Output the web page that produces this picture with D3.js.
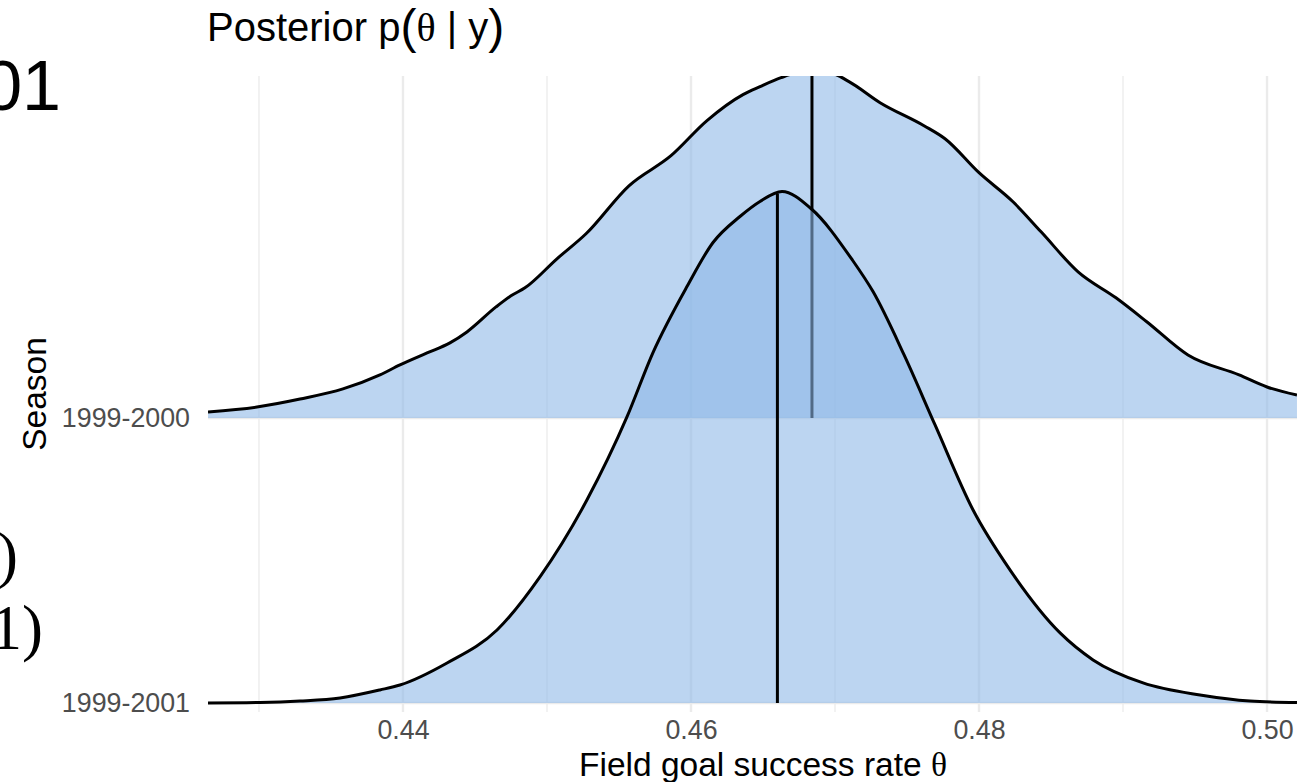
<!DOCTYPE html>
<html>
<head>
<meta charset="utf-8">
<script src="https://cdn.jsdelivr.net/npm/d3@7"></script>
<style>
  html, body { margin: 0; padding: 0; background: #fff; overflow: hidden; }
  svg { display: block; font-family: "Liberation Sans", Arial, sans-serif; }
</style>
</head>
<body>
<svg id="chart" width="1297" height="782"></svg>
<script>
// seasons, bottom row first
var seasons = ["1999-2001", "1999-2000"];
var medianTheta = [0.4684, 0.4660]; // 1999-2000, 1999-2001

var xMajor = [0.44, 0.46, 0.48, 0.50];
var xMinor = [0.43, 0.45, 0.47, 0.49];

// posterior density, 1999-2000
var theta2000 = [0.42646, 0.42986, 0.43285, 0.43583, 0.43840, 0.43979, 0.44167, 0.44326, 0.44444,
  0.44646, 0.44750, 0.44847, 0.45069, 0.45271, 0.45569, 0.45861, 0.46111, 0.46361, 0.46479,
  0.46625, 0.46715, 0.46840, 0.46979, 0.47097, 0.47313, 0.47618, 0.47764, 0.48000, 0.48236,
  0.48431, 0.48688, 0.48951, 0.49167, 0.49451, 0.49806, 0.50000, 0.50208];
var dens2000 = [0.49, 0.89, 1.54, 2.36, 3.5, 4.31, 5.28, 6.1, 6.99,
  9.02, 9.92, 10.57, 12.93, 14.96, 18.86, 21.3, 24.15, 26.26, 26.91,
  27.64, 27.97, 28.05, 27.97, 27.32, 25.61, 23.74, 22.68, 19.92, 17.56,
  15.12, 11.87, 9.76, 7.8, 5.12, 3.5, 2.52, 1.87];

// posterior density, 1999-2001
var theta2001 = [0.42646, 0.43007, 0.43285, 0.43563, 0.43840, 0.43979, 0.44306, 0.44653, 0.44951,
  0.45278, 0.45556, 0.45736, 0.45972, 0.46153, 0.46340, 0.46479, 0.46632, 0.46833, 0.47118,
  0.47264, 0.47479, 0.47694, 0.47958, 0.48215, 0.48563, 0.48792, 0.49139, 0.49535, 0.49882, 0.50208];
var dens2001 = [0.0, 0.04, 0.16, 0.41, 1.06, 1.46, 3.25, 5.93, 10.24,
  16.5, 23.25, 28.46, 33.82, 37.4, 39.51, 40.73, 41.54, 40.16, 36.02,
  33.41, 28.29, 22.6, 15.69, 10.81, 5.69, 3.5, 1.63, 0.65, 0.16, 0.04];

// back ridge first
var series = [
  { season: "1999-2000", pts: theta2000.map(function(t, i){ return { t: t, d: dens2000[i] }; }), median: medianTheta[0] },
  { season: "1999-2001", pts: theta2001.map(function(t, i){ return { t: t, d: dens2001[i] }; }), median: medianTheta[1] }
];

var svg = d3.select("#chart");
var panel = { left: 208, right: 1318, top: 76, bottom: 712 };

var x = d3.scaleLinear().domain([0.42646, 0.50354]).range([panel.left, panel.right]);
var y = d3.scalePoint().domain(seasons).range([703, 418]);
var h = d3.scaleLinear().domain([0, 41.5]).range([0, 511]);

svg.append("defs").append("clipPath").attr("id", "panelClip")
  .append("rect")
  .attr("x", panel.left).attr("y", panel.top)
  .attr("width", panel.right - panel.left).attr("height", panel.bottom - panel.top);

// grid
var grid = svg.append("g");
grid.selectAll(".minor").data(xMinor).enter().append("line")
  .attr("x1", function(d){ return x(d); }).attr("x2", function(d){ return x(d); })
  .attr("y1", panel.top).attr("y2", panel.bottom)
  .attr("stroke", "#ebebeb").attr("stroke-width", 1.3);
grid.selectAll(".major").data(xMajor).enter().append("line")
  .attr("x1", function(d){ return x(d); }).attr("x2", function(d){ return x(d); })
  .attr("y1", panel.top).attr("y2", panel.bottom)
  .attr("stroke", "#ebebeb").attr("stroke-width", 2.4);
grid.selectAll(".hmajor").data(seasons).enter().append("line")
  .attr("x1", panel.left).attr("x2", panel.right)
  .attr("y1", function(d){ return y(d); }).attr("y2", function(d){ return y(d); })
  .attr("stroke", "#ebebeb").attr("stroke-width", 2.4);

// ridges
var ridges = svg.append("g").attr("clip-path", "url(#panelClip)");

function densAt(pts, t) {
  for (var i = 1; i < pts.length; i++) {
    if (pts[i].t >= t) {
      var a = pts[i - 1], b = pts[i];
      return a.d + (b.d - a.d) * (t - a.t) / (b.t - a.t);
    }
  }
  return 0;
}

series.forEach(function(s) {
  var base = y(s.season);
  var g = ridges.append("g");
  var area = d3.area()
    .x(function(d){ return x(d.t); })
    .y0(base)
    .y1(function(d){ return base - h(d.d); })
    .curve(d3.curveMonotoneX);
  var line = d3.line()
    .x(function(d){ return x(d.t); })
    .y(function(d){ return base - h(d.d); })
    .curve(d3.curveMonotoneX);

  g.append("path").attr("d", area(s.pts))
    .attr("fill", "#8cb7e7").attr("fill-opacity", 0.58);
  g.append("path").attr("d", line(s.pts))
    .attr("fill", "none").attr("stroke", "#000").attr("stroke-width", 3)
    .attr("stroke-linejoin", "round");
  g.append("line")
    .attr("x1", x(s.median)).attr("x2", x(s.median))
    .attr("y1", base).attr("y2", base - h(densAt(s.pts, s.median)))
    .attr("stroke", "#000").attr("stroke-width", 3);
});

// axes
var xAxis = svg.append("g")
  .attr("transform", "translate(0," + panel.bottom + ")")
  .call(d3.axisBottom(x).tickValues(xMajor).tickFormat(d3.format(".2f")).tickSize(0).tickPadding(8));
xAxis.select(".domain").remove();
xAxis.selectAll("text")
  .attr("fill", "#4d4d4d").style("font-size", "26.8px").style("font-family", "Liberation Sans, Arial, sans-serif");

var yAxis = svg.append("g")
  .attr("transform", "translate(" + panel.left + ",0)")
  .call(d3.axisLeft(y).tickSize(0).tickPadding(18));
yAxis.select(".domain").remove();
yAxis.selectAll("text")
  .attr("fill", "#4d4d4d").style("font-size", "26.8px").style("font-family", "Liberation Sans, Arial, sans-serif");

// axis titles
var xt = svg.append("text")
  .attr("x", (panel.left + panel.right) / 2).attr("y", 776)
  .attr("text-anchor", "middle").style("font-size", "33.5px").attr("fill", "#000");
xt.append("tspan").text("Field goal success rate ");
xt.append("tspan").style("font-family", "Liberation Serif, Times New Roman, serif").text("θ");

svg.append("text")
  .attr("transform", "translate(46," + ((panel.top + panel.bottom) / 2) + ") rotate(-90)")
  .attr("text-anchor", "middle").style("font-size", "33.5px").attr("fill", "#000")
  .text("Season");

// title
var title = svg.append("text")
  .attr("x", 207).attr("y", 41).style("font-size", "40px").attr("fill", "#000");
title.append("tspan").text("Posterior p");
title.append("tspan").style("font-size", "48px").attr("dy", 2).text("(");
title.append("tspan").style("font-family", "Liberation Serif, Times New Roman, serif").attr("dy", -2).text("θ");
title.append("tspan").text(" | y");
title.append("tspan").style("font-size", "48px").attr("dy", 2).text(")");

// fragments of neighbouring slide content, cut by the crop
svg.append("text").attr("x", 61).attr("y", 110).attr("text-anchor", "end")
  .style("font-size", "70px").attr("fill", "#000").text("01");
svg.append("text").attr("x", 18).attr("y", 576).attr("text-anchor", "end")
  .style("font-family", "Liberation Serif, Times New Roman, serif")
  .style("font-size", "63px").attr("fill", "#000").text(")");
svg.append("text").attr("x", 43).attr("y", 649).attr("text-anchor", "end")
  .style("font-family", "Liberation Serif, Times New Roman, serif")
  .style("font-size", "63px").attr("fill", "#000").text("1)");
</script>
</body>
</html>
